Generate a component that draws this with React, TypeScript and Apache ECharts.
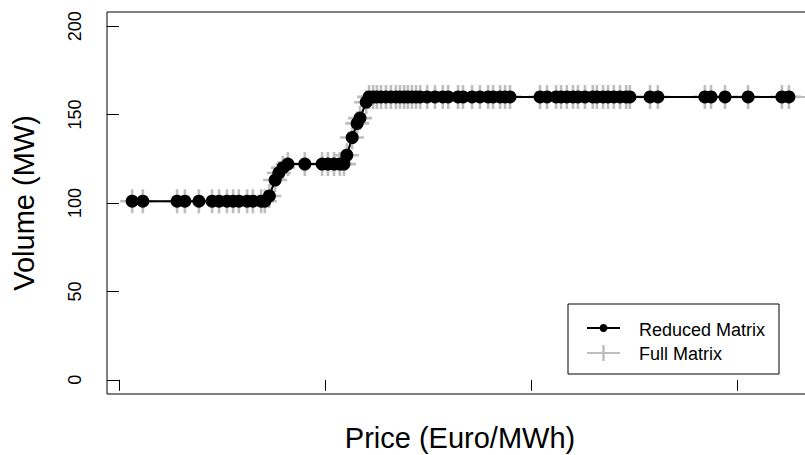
import React, { useEffect, useRef } from "react";
import * as echarts from "echarts";

// Reduced matrix (black line + filled circles)
const reducedPrice = [
  3.2, 5.8, 14.1, 16.0, 19.4, 22.6, 24.3, 26.2, 27.7, 29.1, 31.1, 32.5, 34.5, 35.4,
  36.5, 37.9, 38.8, 39.8,
  41.0, 45.1, 49.3, 50.7, 52.2, 53.6, 54.6,
  55.3, 56.6, 57.8, 58.5, 60.0,
  60.7, 61.7, 62.6, 63.6, 64.8, 66.0, 67.2, 68.2, 69.2, 70.1, 71.1, 72.1, 73.1, 74.8,
  76.7, 78.6, 79.9, 82.3, 83.5, 85.7, 87.6, 89.6, 90.8, 92.5, 93.7, 94.9,
  102.2, 103.9,
  106.1, 107.3, 108.7, 110.2, 111.4, 113.1, 115.0, 116.0, 117.5, 118.7, 120.1, 121.6, 123.1, 124.0,
  128.9, 130.8, 142.2, 143.7, 147.1, 152.7, 160.9, 162.6,
];
const reducedVolume = [
  101, 101, 101, 101, 101, 101, 101, 101, 101, 101, 101, 101, 101, 101,
  104, 113, 117, 120,
  122, 122, 122, 122, 122, 122, 122,
  127, 137, 145, 148, 157,
  160, 160, 160, 160, 160, 160, 160, 160, 160, 160, 160, 160, 160, 160,
  160, 160, 160, 160, 160, 160, 160, 160, 160, 160, 160, 160,
  160, 160,
  160, 160, 160, 160, 160, 160, 160, 160, 160, 160, 160, 160, 160, 160,
  160, 160, 160, 160, 160, 160, 160, 160,
];

// Full matrix (grey line + plus markers)
const fullPrice = [
  3.2, 5.8, 14.1, 16.0, 19.4, 22.6, 24.3, 26.2, 27.7, 29.1, 31.1, 32.5, 34.5, 35.4,
  36.5, 37.9, 38.8, 39.8,
  41.0, 45.1, 49.3, 50.7, 52.2, 53.6, 54.6,
  55.3, 56.6, 57.8, 58.5, 60.0,
  60.7, 61.7, 62.6, 63.6, 64.8, 66.0, 67.2, 68.2, 69.2, 70.1, 71.1, 72.1, 73.1, 74.8,
  76.7, 78.6, 79.9, 82.3, 83.5, 85.7, 87.6, 89.6, 90.8, 92.5, 93.7, 94.9,
  102.2, 103.9,
  106.1, 107.3, 108.7, 110.2, 111.4, 113.1, 115.0, 116.0, 117.5, 118.7, 120.1, 121.6, 123.1, 124.0,
  128.9, 130.8, 142.2, 143.7, 147.1, 152.7, 160.9, 162.6, 175.0,
];
const fullVolume = [
  101, 101, 101, 101, 101, 101, 101, 101, 101, 101, 101, 101, 101, 101,
  104, 113, 117, 120,
  122, 122, 122, 122, 122, 122, 122,
  127, 137, 145, 148, 157,
  160, 160, 160, 160, 160, 160, 160, 160, 160, 160, 160, 160, 160, 160,
  160, 160, 160, 160, 160, 160, 160, 160, 160, 160, 160, 160,
  160, 160,
  160, 160, 160, 160, 160, 160, 160, 160, 160, 160, 160, 160, 160, 160,
  160, 160, 160, 160, 160, 160, 160, 160, 160,
];

const xTicks = [0, 50, 100, 150];
const yTicks = [0, 50, 100, 150, 200];

const FONT = "'Liberation Sans', Arial, sans-serif";
const PLUS =
  "path://M-1.3,-12L1.3,-12L1.3,-1.3L12,-1.3L12,1.3L1.3,1.3L1.3,12L-1.3,12L-1.3,1.3L-12,1.3L-12,-1.3L-1.3,-1.3Z";

export default function App() {
  const ref = useRef<HTMLDivElement>(null);
  useEffect(() => {
    if (!ref.current) return;
    const chart = echarts.init(ref.current, undefined, { renderer: "svg" });
    const full = fullPrice.map((p, i) => [p, fullVolume[i]]);
    const reduced = reducedPrice.map((p, i) => [p, reducedVolume[i]]);
    chart.setOption({
      animation: false,
      backgroundColor: "#ffffff",
      grid: {
        left: 107,
        top: 12,
        width: 706,
        height: 382,
        containLabel: false,
        outerBoundsMode: "none",
        show: true,
        borderColor: "#000",
        borderWidth: 1,
        backgroundColor: "transparent",
      },
      xAxis: {
        type: "value",
        min: -2.91,
        max: 168.45,
        axisLine: { show: false },
        splitLine: { show: false },
        axisTick: {
          show: true,
          length: 11,
          customValues: xTicks,
          lineStyle: { color: "#000", width: 1 },
        },
        axisLabel: { show: false, customValues: xTicks },
      },
      yAxis: {
        type: "value",
        min: -8,
        max: 208,
        axisLine: { show: false },
        splitLine: { show: false },
        axisTick: {
          show: true,
          length: 12,
          customValues: yTicks,
          lineStyle: { color: "#000", width: 1 },
        },
        axisLabel: {
          show: true,
          customValues: yTicks,
          rotate: 90,
          margin: 23,
          color: "#000",
          fontFamily: FONT,
          fontSize: 18,
        },
      },
      series: [
        {
          name: "Full Matrix",
          type: "line",
          data: full,
          z: 1,
          showAllSymbol: true,
          symbol: PLUS,
          symbolSize: 24,
          itemStyle: { color: "#bebebe" },
          lineStyle: { color: "#bebebe", width: 2 },
        },
        {
          name: "Reduced Matrix",
          type: "line",
          data: reduced,
          z: 2,
          showAllSymbol: true,
          symbol: "circle",
          symbolSize: 13,
          itemStyle: { color: "#000" },
          lineStyle: { color: "#000", width: 2 },
        },
      ],
      graphic: [
        {
          type: "text",
          x: 24,
          y: 203,
          rotation: Math.PI / 2,
          style: {
            text: "Volume (MW)",
            font: `29px ${FONT}`,
            fill: "#000",
            align: "center",
            verticalAlign: "middle",
          },
        },
        {
          type: "text",
          x: 460,
          y: 438,
          style: {
            text: "Price (Euro/MWh)",
            font: `29px ${FONT}`,
            fill: "#000",
            align: "center",
            verticalAlign: "middle",
          },
        },
        {
          type: "rect",
          shape: { x: 568, y: 304, width: 211, height: 70 },
          style: { fill: "#fff", stroke: "#000", lineWidth: 1 },
          z: 10,
        },
        {
          type: "line",
          shape: { x1: 587, y1: 328, x2: 620, y2: 328 },
          style: { stroke: "#000", lineWidth: 2 },
          z: 11,
        },
        {
          type: "circle",
          shape: { cx: 603.5, cy: 328, r: 4 },
          style: { fill: "#000" },
          z: 11,
        },
        {
          type: "text",
          x: 639,
          y: 330,
          style: {
            text: "Reduced Matrix",
            font: `18px ${FONT}`,
            fill: "#000",
            align: "left",
            verticalAlign: "middle",
          },
          z: 11,
        },
        {
          type: "line",
          shape: { x1: 587, y1: 353, x2: 620, y2: 353 },
          style: { stroke: "#bebebe", lineWidth: 2 },
          z: 11,
        },
        {
          type: "line",
          shape: { x1: 603.5, y1: 345, x2: 603.5, y2: 361 },
          style: { stroke: "#bebebe", lineWidth: 2.5 },
          z: 11,
        },
        {
          type: "text",
          x: 639,
          y: 353.5,
          style: {
            text: "Full Matrix",
            font: `18px ${FONT}`,
            fill: "#000",
            align: "left",
            verticalAlign: "middle",
          },
          z: 11,
        },
      ],
    });
    return () => chart.dispose();
  }, []);
  return (
    <div
      ref={ref}
      style={{ position: "fixed", left: 0, top: 0, width: 805, height: 455 }}
    />
  );
}
